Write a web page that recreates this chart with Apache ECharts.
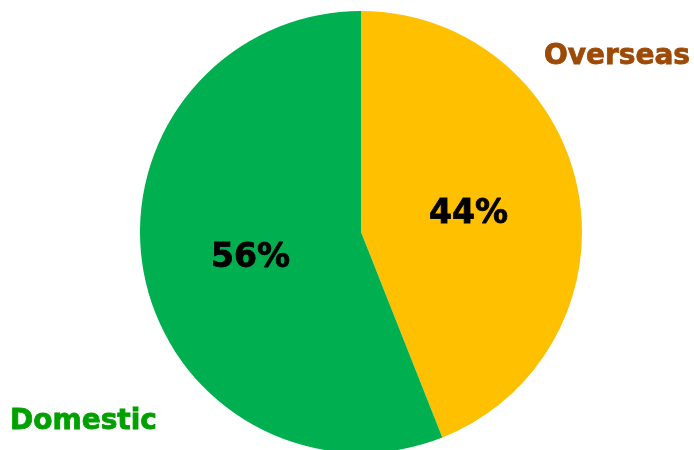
<!DOCTYPE html>
<html>
<head>
<meta charset="utf-8">
<script src="https://cdn.jsdelivr.net/npm/echarts@6/dist/echarts.min.js"></script>
<style>
  html,body{margin:0;padding:0;background:#fff;}
  #main{width:694px;height:450px;}
</style>
</head>
<body>
<div id="main"></div>
<script>
var categories = ['Overseas', 'Domestic'];
var values = [44, 56];
var sliceColors = ['#FFC000', '#00B050'];
var nameColors = ['#9C4A06', '#00A000'];

var chart = echarts.init(document.getElementById('main'));

// small nudges so the percent text sits where the original has it
var pctOffset = [[-4, 4], [1, 5]];

var pieData = categories.map(function(c, i){
	return {name: c, value: values[i], itemStyle: {color: sliceColors[i]}, label: {offset: pctOffset[i]}};
});
var nameData = categories.map(function(c, i){
	return {name: c, value: values[i], label: {color: nameColors[i], textBorderColor: nameColors[i]}};
});

// fixed spots for the category names
var namePos = [
	{x: 690, y: 57, align: 'right'},
	{x: 10, y: 422, align: 'left'}
];

var option = {
	animation: false,
	series: [{
		type: 'pie',
		center: [361, 232],
		radius: 221,
		startAngle: 90,
		clockwise: true,
		percentPrecision: 0,
		silent: true,
		itemStyle: {borderWidth: 0},
		label: {
			position: 'inside',
			formatter: '{d}%',
			fontFamily: 'DejaVu Sans',
			fontWeight: 'bold',
			fontSize: 33,
			color: '#000',
			textBorderColor: '#000',
			textBorderWidth: 0.8
		},
		labelLine: {show: false},
		data: pieData
	}, {
		type: 'pie',
		center: [361, 232],
		radius: 221,
		startAngle: 90,
		silent: true,
		itemStyle: {color: 'rgba(0,0,0,0)'},
		label: {
			position: 'inside',
			formatter: '{b}',
			fontFamily: 'DejaVu Sans',
			fontWeight: 'bold',
			fontSize: 28,
			textBorderWidth: 0.8
		},
		labelLayout: function(params){
			var p = namePos[params.dataIndex];
			return {x: p.x, y: p.y, align: p.align, verticalAlign: 'middle'};
		},
		labelLine: {show: false},
		data: nameData
	}]
};
chart.setOption(option);
</script>
</body>
</html>
